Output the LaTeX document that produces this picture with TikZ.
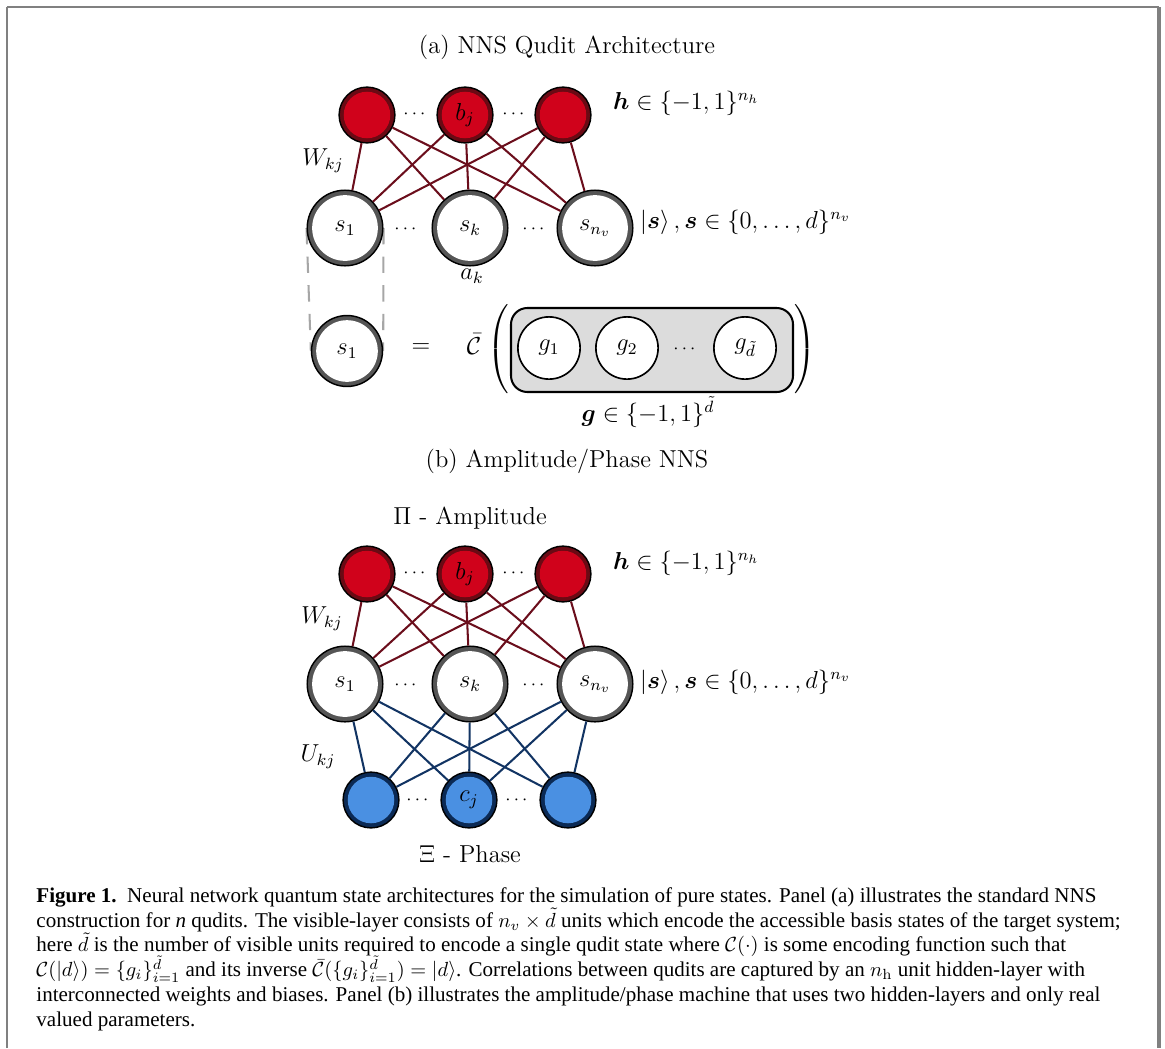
\documentclass[tikz,border=0pt]{standalone}
\usepackage{amsmath}
\usepackage{bm}
\usepackage{fontspec}
\newfontfamily\capfont{Liberation Serif}
\usetikzlibrary{backgrounds}
\definecolor{hidfill}{HTML}{D0021B}
\definecolor{hidband}{HTML}{6A0A14}
\definecolor{wcol}{HTML}{6B0E1C}
\definecolor{phafill}{HTML}{4A90E2}
\definecolor{phaband}{HTML}{0B2A55}
\definecolor{ucol}{HTML}{123463}
\definecolor{visband}{HTML}{555555}
\definecolor{boxfill}{HTML}{DCDCDC}
\definecolor{framecol}{HTML}{808080}
\newcommand{\dotsep}{{\fontsize{9}{10}\selectfont$\cdots$}}
\newcommand{\capstyle}{\capfont\fontsize{10.3}{12.15}\selectfont\lineskiplimit=-20pt\relax}

\begin{document}
\begin{tikzpicture}
  [x=0.0172cm, y=-0.0172cm,
   every node/.style={font=\fontsize{12}{14}\selectfont},
   hid/.style={circle, draw=black, line width=0.7pt, fill=hidband, inner sep=0pt,
     minimum size=0.96cm,
     path picture={\fill[hidfill] (path picture bounding box.center) circle (0.40cm);}},
   pha/.style={hid, fill=phaband,
     path picture={\fill[phafill] (path picture bounding box.center) circle (0.40cm);}},
   vis/.style={circle, draw=black, line width=0.7pt, fill=visband, inner sep=0pt,
     minimum size=1.3cm,
     path picture={\fill[white] (path picture bounding box.center) circle (0.565cm);}},
   enc/.style={circle, draw=black, line width=0.8pt, fill=white, inner sep=0pt,
     minimum size=1.07cm},
   gap/.style={inner sep=0pt},
   wred/.style={draw=wcol, line width=1pt},
   wblue/.style={draw=ucol, line width=1pt}]
  \useasboundingbox (0,0) rectangle (1165,1048);
  % frame
  \draw[framecol, line width=1.1pt] (7,1048) -- (7,7);
  \draw[framecol, line width=0.6pt] (7,7) -- (1159,7);
  \draw[framecol, line width=1.6pt] (1159,7) -- (1159,1048);

  % (a) NNS qudit architecture
  \node (titA) at (567,47) {(a) NNS Qudit Architecture};
  \node[hid] (ha1) at (367,115) {};
  \node[hid] (ha2) at (465,115) {$b_j$};
  \node[hid] (ha3) at (563,115) {};
  \node[vis] (va1) at (345,228) {$s_1$};
  \node[vis] (va2) at (470,228) {$s_k$};
  \node[vis] (va3) at (595,228) {$s_{n_v}$};
  \foreach \i in {1,2,3}
    \foreach \j in {1,2,3}
      \draw[wred] (ha\i) -- (va\j);
  \node[gap] (dha1) at (416,114) {\dotsep};
  \node[gap] (dha2) at (515,114) {\dotsep};
  \node[gap] (dva1) at (407,229) {\dotsep};
  \node[gap] (dva2) at (535,229) {\dotsep};
  \node (wa) at (323,161) {$W_{kj}$};
  \node (ak) at (472,276) {$a_k$};
  \node[anchor=west] (hsetA) at (606,103) {$\bm{h}\in\{-1,1\}^{n_h}$};
  \node[anchor=west] (ssetA) at (633,222) {$\left|\bm{s}\right\rangle,\bm{s}\in\{0,\ldots,d\}^{n_v}$};

  % encoding of one qudit
  \node[vis, minimum size=1.22cm,
     path picture={\fill[white] (path picture bounding box.center) circle (0.53cm);}]
     (enc1) at (347,351) {$s_1$};
  \begin{scope}[on background layer]
    \draw[gray!70, line width=1pt, dash pattern=on 8pt off 6pt] (va1.west) -- (enc1.west);
    \draw[gray!70, line width=1pt, dash pattern=on 8pt off 6pt] (va1.east) -- (enc1.east);
  \end{scope}
  \node (eq) at (421,348) {$=$};
  \node (cbar) at (474,344) {$\bar{\mathcal{C}}$};
  \node[gap] (lpar) at (499,351) {$\left(\vrule height 0.72cm depth 0.72cm width 0pt\right.$};
  \node[gap] (rpar) at (804,351) {$\left.\vrule height 0.72cm depth 0.72cm width 0pt\right)$};
  \draw[fill=boxfill, line width=1pt, rounded corners=8pt] (511,308) rectangle (793,392);
  \node[enc] (g1) at (549,348) {$g_1$};
  \node[enc] (g2) at (627,348) {$g_2$};
  \node[enc] (gd) at (745,348) {$g_{\tilde d}$};
  \node[gap] (dg) at (686,349) {\dotsep};
  \node (gset) at (648,415) {$\bm{g}\in\{-1,1\}^{\smash{\tilde d}}$};

  % (b) amplitude/phase
  \node (titB) at (567,461) {(b) Amplitude/Phase NNS};
  \node (amp) at (470,518) {$\Pi$ - Amplitude};
  \node[hid] (hb1) at (367,574) {};
  \node[hid] (hb2) at (465,574) {$b_j$};
  \node[hid] (hb3) at (563,574) {};
  \node[vis] (vb1) at (345,684) {$s_1$};
  \node[vis] (vb2) at (470,684) {$s_k$};
  \node[vis] (vb3) at (595,684) {$s_{n_v}$};
  \node[pha] (pb1) at (371,800) {};
  \node[pha] (pb2) at (469,800) {$c_j$};
  \node[pha] (pb3) at (568,800) {};
  \foreach \i in {1,2,3}
    \foreach \j in {1,2,3}
    {
      \draw[wred] (hb\i) -- (vb\j);
      \draw[wblue] (vb\i) -- (pb\j);
    }
  \node[gap] (dhb1) at (416,573) {\dotsep};
  \node[gap] (dhb2) at (515,573) {\dotsep};
  \node[gap] (dvb1) at (407,685) {\dotsep};
  \node[gap] (dvb2) at (535,685) {\dotsep};
  \node[gap] (dpb1) at (419,800) {\dotsep};
  \node[gap] (dpb2) at (518,800) {\dotsep};
  \node (wb) at (322,619) {$W_{kj}$};
  \node (ub) at (318,757) {$U_{kj}$};
  \node[anchor=west] (hsetB) at (606,563) {$\bm{h}\in\{-1,1\}^{n_h}$};
  \node[anchor=west] (ssetB) at (633,682) {$\left|\bm{s}\right\rangle,\bm{s}\in\{0,\ldots,d\}^{n_v}$};
  \node (phase) at (470,854) {$\Xi$ - Phase};

  % caption
  \node[anchor=north west, inner sep=0pt, align=left, font=\capstyle] (cap) at (36,887)
  {\textbf{Figure 1.}\ \ Neural network quantum state architectures for the simulation of pure states. Panel (a) illustrates the standard NNS\\
   construction for \textit{n} qudits. The visible-layer consists of $n_v\times\tilde d$ units which encode the accessible basis states of the target system;\\
   here $\tilde d$ is the number of visible units required to encode a single qudit state where $\mathcal{C}(\cdot)$ is some encoding function such that\\
   $\mathcal{C}(|d\rangle)=\{g_i\}_{i=1}^{\smash{\tilde d}}$ and its inverse $\bar{\mathcal{C}}(\{g_i\}_{i=1}^{\smash{\tilde d}})=|d\rangle$. Correlations between qudits are captured by an $n_{\mathrm{h}}$ unit hidden-layer with\\
   interconnected weights and biases. Panel (b) illustrates the amplitude/phase machine that uses two hidden-layers and only real\\
   valued parameters.};
\end{tikzpicture}
\end{document}
